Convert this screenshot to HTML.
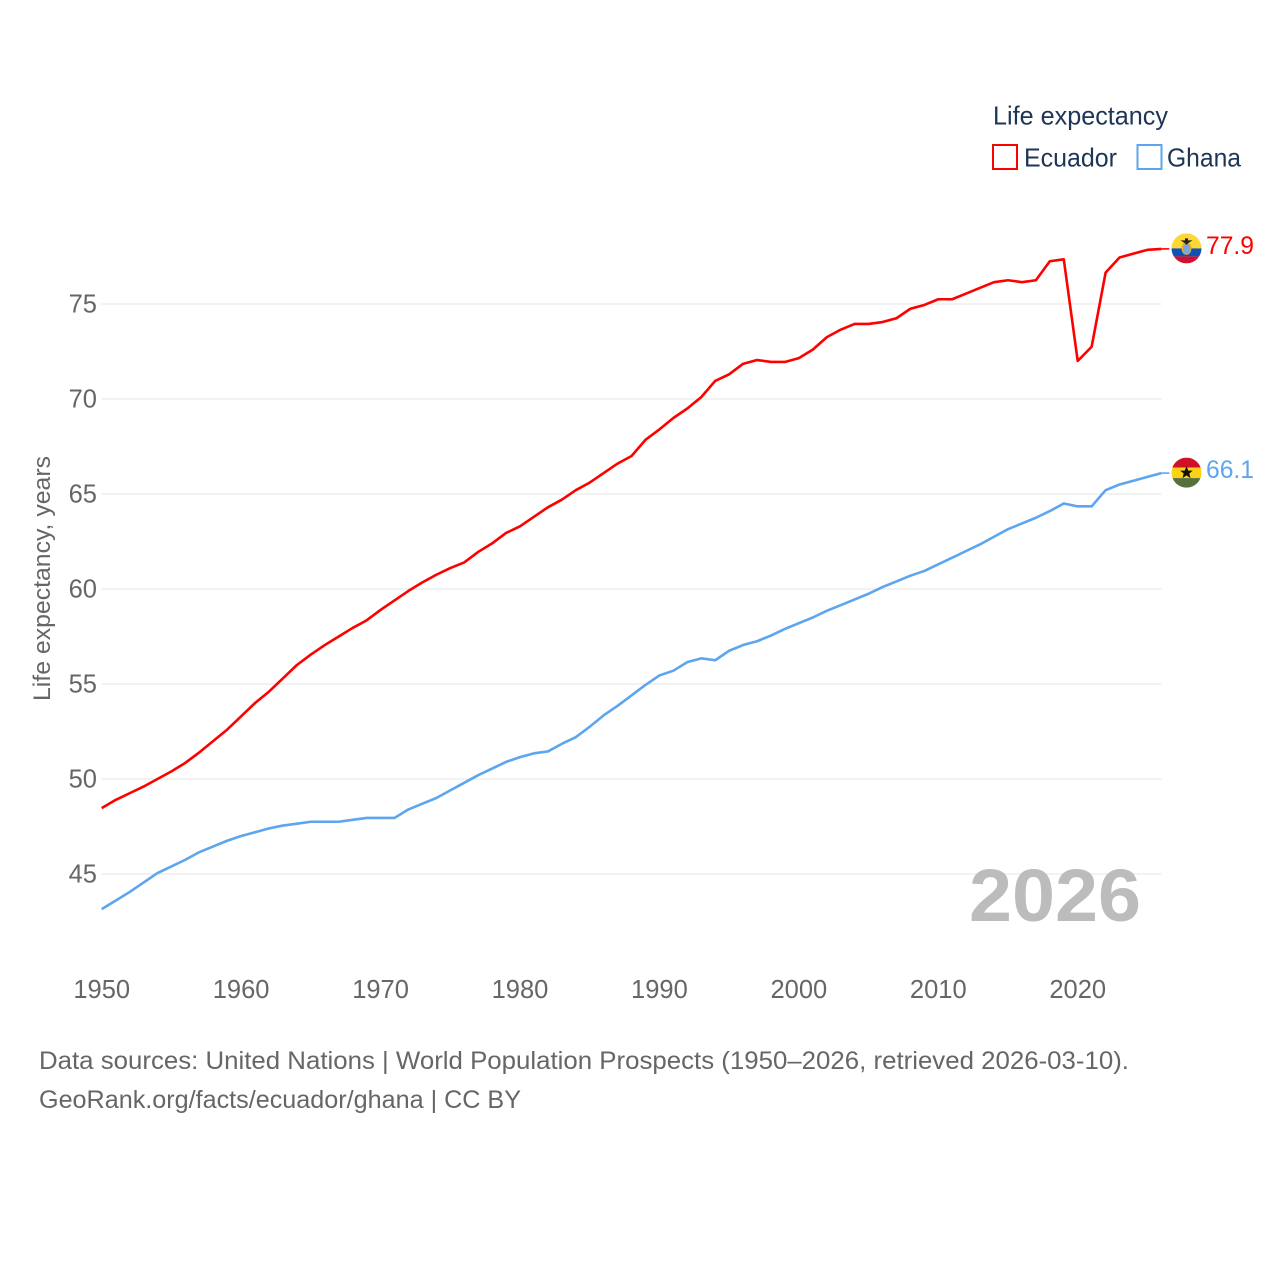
<!DOCTYPE html>
<html lang="en">
<head>
<meta charset="utf-8">
<title>Life expectancy: Ecuador and Ghana</title>
<style>
html,body{margin:0;padding:0;background:#fff;width:1280px;height:1280px;overflow:hidden}
svg{display:block}
text{font-family:"Liberation Sans",sans-serif}
</style>
</head>
<body>
<svg id="chart" width="1280" height="1280" viewBox="0 0 1280 1280" xmlns="http://www.w3.org/2000/svg">
<defs>
<clipPath id="flag-clip-ec"><circle cx="0" cy="0" r="15"/></clipPath>
<clipPath id="flag-clip-gh"><circle cx="0" cy="0" r="15"/></clipPath>
</defs>
<g id="grid"></g>
<g id="yticks"></g>
<g id="xticks"></g>
<text x="0" y="0" transform="translate(50,701) rotate(-90)" font-size="24.5" fill="#666" textLength="245" lengthAdjust="spacingAndGlyphs">Life expectancy, years</text>
<text x="969" y="921" font-size="74" font-weight="700" fill="#bcbcbc" textLength="172" lengthAdjust="spacingAndGlyphs">2026</text>
<g id="series"></g>

<g>
<text x="993" y="124.500" font-size="26" fill="#1d3557" textLength="175" lengthAdjust="spacingAndGlyphs">Life expectancy</text>
<rect x="993" y="145" width="24" height="24" fill="#fff" stroke="#ff0000" stroke-width="2"/>
<text x="1024" y="166.500" font-size="26" fill="#1d3557" textLength="93" lengthAdjust="spacingAndGlyphs">Ecuador</text>
<rect x="1137.500" y="145" width="24" height="24" fill="#fff" stroke="#5da5ee" stroke-width="2"/>
<text x="1167" y="166.500" font-size="26" fill="#1d3557" textLength="74" lengthAdjust="spacingAndGlyphs">Ghana</text>
</g>

<text x="39" y="1069" font-size="25" fill="#666" textLength="1090" lengthAdjust="spacingAndGlyphs">Data sources: United Nations | World Population Prospects (1950–2026, retrieved 2026-03-10).</text>
<text x="39" y="1108" font-size="25" fill="#666" textLength="482" lengthAdjust="spacingAndGlyphs">GeoRank.org/facts/ecuador/ghana | CC BY</text>

<g id="ecuador-end">
  <g id="ecuador-flag">
    <g clip-path="url(#flag-clip-ec)">
      <rect x="-15" y="-15" width="30" height="15" fill="#fdd835"/>
      <rect x="-15" y="0" width="30" height="8" fill="#0d52b5"/>
      <rect x="-15" y="8" width="30" height="7" fill="#ce1130"/>
      <ellipse cx="0" cy="0" rx="5" ry="6.500" fill="#e0a93a"/>
      <ellipse cx="0" cy="0.500" rx="3.500" ry="5" fill="#7fa6d8"/>
      <path d="M-6,-8 L6,-8 L2,-5.500 L0,-3.500 L-2,-5.500 Z" fill="#222"/>
      <rect x="-1.500" y="-10" width="3" height="4" fill="#222"/>
    </g>
  </g>
  <text id="ecuador-value" x="1206" y="254" font-size="25" fill="#ff0000" textLength="48" lengthAdjust="spacingAndGlyphs"></text>
</g>
<g id="ghana-end">
  <g id="ghana-flag">
    <g clip-path="url(#flag-clip-gh)">
      <rect x="-15" y="-15" width="30" height="10" fill="#ce1126"/>
      <rect x="-15" y="-5" width="30" height="10.500" fill="#fcd116"/>
      <rect x="-15" y="5.500" width="30" height="10" fill="#56703a"/>
      <path d="M0,-6.500 L1.800,-2 L6.300,-2 L2.800,0.900 L4,5.500 L0,2.800 L-4,5.500 L-2.800,0.900 L-6.300,-2 L-1.800,-2 Z" fill="#111"/>
    </g>
  </g>
  <text id="ghana-value" x="1206" y="479" font-size="25" fill="#5da5ee" textLength="48" lengthAdjust="spacingAndGlyphs"></text>
</g>
</svg>
<script>
const firstYear = 1950;
const yTickValues = [45, 50, 55, 60, 65, 70, 75];
const xTickValues = [1950, 1960, 1970, 1980, 1990, 2000, 2010, 2020];
const ecuadorValues = [48.47,48.9,49.25,49.6,50.0,50.4,50.85,51.4,52.0,52.6,53.3,54.0,54.6,55.3,56.0,56.55,57.05,57.5,57.95,58.35,58.9,59.4,59.9,60.35,60.75,61.1,61.4,61.95,62.4,62.95,63.3,63.8,64.3,64.7,65.2,65.6,66.1,66.6,67.0,67.85,68.4,69.0,69.5,70.1,70.95,71.3,71.85,72.05,71.95,71.95,72.15,72.6,73.25,73.65,73.95,73.95,74.05,74.25,74.75,74.95,75.25,75.25,75.55,75.85,76.15,76.25,76.15,76.25,77.25,77.35,72.0,72.75,76.65,77.45,77.65,77.85,77.9];
const ghanaValues = [43.15,43.6,44.05,44.55,45.05,45.4,45.75,46.15,46.45,46.75,47.0,47.2,47.4,47.55,47.65,47.75,47.75,47.75,47.85,47.95,47.95,47.95,48.4,48.7,49.0,49.4,49.8,50.2,50.55,50.9,51.15,51.35,51.45,51.85,52.2,52.75,53.35,53.85,54.4,54.95,55.45,55.7,56.15,56.35,56.25,56.75,57.05,57.25,57.55,57.9,58.2,58.5,58.85,59.15,59.45,59.75,60.1,60.4,60.7,60.95,61.3,61.65,62.0,62.35,62.75,63.15,63.45,63.75,64.1,64.5,64.35,64.35,65.2,65.5,65.7,65.9,66.1];

const NS = 'http://www.w3.org/2000/svg';
function xScale(year) { return 101.7 + (year - 1950) * 13.943; }
function yScale(v) { return 874 - (v - 45) * 19; }

const grid = document.getElementById('grid');
const yticks = document.getElementById('yticks');
yTickValues.forEach(function (v) {
  const line = document.createElementNS(NS, 'line');
  line.setAttribute('x1', xScale(1950));
  line.setAttribute('x2', xScale(2026));
  line.setAttribute('y1', yScale(v));
  line.setAttribute('y2', yScale(v));
  line.setAttribute('stroke', '#e9e9e9');
  line.setAttribute('stroke-width', '1.3');
  
  
  grid.appendChild(line);
  const t = document.createElementNS(NS, 'text');
  t.setAttribute('x', 97);
  t.setAttribute('y', yScale(v) + 8.5);
  t.setAttribute('text-anchor', 'end');
  t.setAttribute('font-size', '25.5');
  t.setAttribute('fill', '#666');
  
  
  t.textContent = v;
  yticks.appendChild(t);
});

const xticks = document.getElementById('xticks');
xTickValues.forEach(function (yr) {
  const t = document.createElementNS(NS, 'text');
  t.setAttribute('x', xScale(yr));
  t.setAttribute('y', 998);
  t.setAttribute('text-anchor', 'middle');
  t.setAttribute('font-size', '25.5');
  t.setAttribute('fill', '#666');
  
  
  t.textContent = yr;
  xticks.appendChild(t);
});

function pointsFor(values) {
  return values.map(function (v, i) {
    return xScale(firstYear + i).toFixed(2) + ',' + yScale(v).toFixed(2);
  }).join(' ');
}

const seriesGroup = document.getElementById('series');
function drawSeries(values, color, name, flagId, valueId) {
  const last = values[values.length - 1];
  const lastYear = firstYear + values.length - 1;
  const connector = document.createElementNS(NS, 'line');
  connector.setAttribute('x1', xScale(lastYear));
  connector.setAttribute('x2', xScale(lastYear) + 8);
  connector.setAttribute('y1', yScale(last));
  connector.setAttribute('y2', yScale(last));
  connector.setAttribute('stroke', color);
  connector.setAttribute('stroke-width', '1.6');
  
  
  seriesGroup.appendChild(connector);
  const line = document.createElementNS(NS, 'polyline');
  line.setAttribute('points', pointsFor(values));
  line.setAttribute('fill', 'none');
  line.setAttribute('stroke', color);
  line.setAttribute('stroke-width', '2.6');
  line.setAttribute('stroke-linejoin', 'round');
  
  
  seriesGroup.appendChild(line);
  document.getElementById(flagId).setAttribute('transform', 'translate(1186.5,' + (yScale(last) - 0.5).toFixed(2) + ')');
  const label = document.getElementById(valueId);
  label.setAttribute('y', (yScale(last) + 5).toFixed(2));
  label.textContent = last.toFixed(1);
}
drawSeries(ecuadorValues, '#ff0000', 'ecuador', 'ecuador-flag', 'ecuador-value');
drawSeries(ghanaValues, '#5da5ee', 'ghana', 'ghana-flag', 'ghana-value');
</script>
</body>
</html>
